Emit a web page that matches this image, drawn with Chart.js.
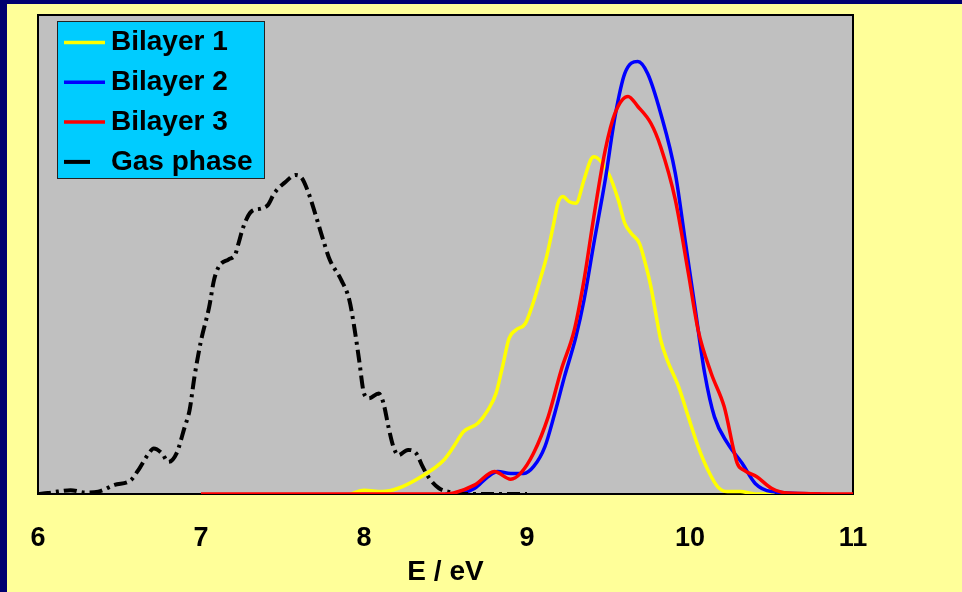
<!DOCTYPE html>
<html lang="en">
<head>
<meta charset="UTF-8">
<title>Bilayer spectra vs gas phase</title>
<style>
  body {
    margin: 0;
    background: #000070;
  }
  .frame {
    position: absolute;
    left: 7px;
    top: 4px;
    width: 955px;
    height: 588px;
    background: #ffff99;
  }
  canvas { display: block; }
</style>
</head>
<body>
<div class="frame"><canvas id="chart" width="955" height="588"></canvas></div>

<script src="https://cdn.jsdelivr.net/npm/chart.js"></script>
<script>
  // energies (eV) and intensities (arbitrary units, 1 = top of the plot)
  const gasE = [6.0, 6.06, 6.12, 6.2, 6.29, 6.37, 6.47, 6.57, 6.61, 6.68, 6.71, 6.76, 6.80, 6.85, 6.90, 6.93, 6.96, 7.0, 7.05, 7.08,
                7.11, 7.17, 7.21, 7.23, 7.26, 7.31, 7.37, 7.41, 7.45, 7.52, 7.58, 7.62, 7.66, 7.70, 7.75, 7.79, 7.86, 7.91, 7.94, 7.97,
                8.0, 8.03, 8.09, 8.12, 8.15, 8.18, 8.21, 8.27, 8.32, 8.36, 8.40, 8.46, 8.54, 8.6, 9.0];
  const gasI = [0, 0.002, 0.005, 0.008, 0.003, 0.005, 0.019, 0.029, 0.047, 0.085, 0.095, 0.085, 0.067, 0.085, 0.14, 0.175, 0.245, 0.32, 0.39, 0.447,
                0.475, 0.49, 0.50, 0.523, 0.558, 0.59, 0.596, 0.603, 0.628, 0.652, 0.666, 0.659, 0.628, 0.586, 0.53, 0.489, 0.447, 0.405, 0.349, 0.28,
                0.21, 0.20, 0.21, 0.189, 0.14, 0.099, 0.081, 0.092, 0.085, 0.057, 0.033, 0.012, 0.003, 0, 0];

  const bil1E = [7.92, 8.0, 8.11, 8.21, 8.35, 8.49, 8.55, 8.61, 8.70, 8.76, 8.81, 8.85, 8.89, 8.93, 8.99, 9.03, 9.08, 9.12, 9.16, 9.19,
                 9.22, 9.26, 9.30, 9.35, 9.39, 9.41, 9.50, 9.56, 9.60, 9.64, 9.69, 9.72, 9.76, 9.79, 9.82, 9.86, 9.93, 9.99, 10.05, 10.11,
                 10.17, 10.23, 10.31, 10.40, 10.52];
  const bil1I = [0, 0.008, 0.005, 0.012, 0.036, 0.071, 0.099, 0.13, 0.148, 0.175, 0.21, 0.266, 0.325, 0.342, 0.356, 0.391, 0.447, 0.495, 0.558, 0.607,
                 0.621, 0.61, 0.607, 0.656, 0.697, 0.704, 0.669, 0.614, 0.565, 0.544, 0.523, 0.489, 0.433, 0.377, 0.322, 0.28, 0.224, 0.161, 0.099, 0.05,
                 0.015, 0.005, 0.005, 0, 0];

  const bil2E = [8.5, 8.55, 8.68, 8.76, 8.82, 8.90, 8.98, 9.04, 9.11, 9.17, 9.23, 9.30, 9.35, 9.41, 9.48, 9.54, 9.60, 9.68, 9.74, 9.82,
                 9.91, 9.97, 10.03, 10.09, 10.15, 10.23, 10.32, 10.40, 10.50, 10.8];
  const bil2I = [0, 0, 0.012, 0.036, 0.047, 0.043, 0.043, 0.057, 0.099, 0.168, 0.245, 0.328, 0.405, 0.523, 0.656, 0.788, 0.878, 0.903, 0.878, 0.795,
                 0.669, 0.53, 0.391, 0.252, 0.161, 0.106, 0.064, 0.022, 0.005, 0];

  const bil3E = [7.0, 8.5, 8.55, 8.68, 8.80, 8.90, 8.96, 9.04, 9.13, 9.21, 9.29, 9.35, 9.41, 9.48, 9.54, 9.62, 9.68, 9.76, 9.82, 9.91,
                 9.99, 10.05, 10.13, 10.21, 10.29, 10.33, 10.41, 10.50, 10.60, 11.0];
  const bil3I = [0, 0, 0.002, 0.019, 0.047, 0.031, 0.043, 0.085, 0.161, 0.259, 0.342, 0.447, 0.579, 0.718, 0.795, 0.83, 0.809, 0.774, 0.725, 0.614,
                 0.461, 0.342, 0.252, 0.182, 0.064, 0.05, 0.036, 0.012, 0.002, 0];

  const xTicks = [6, 7, 8, 9, 10, 11];

  const FONT = 'Arial, "Liberation Sans", sans-serif';

  function toPoints(xs, ys) {
    return xs.map((x, i) => ({ x: x, y: ys[i] }));
  }

  // grey plot area with a black frame, under the curves
  const plotFrame = {
    id: 'plotFrame',
    beforeDatasetsDraw(chart) {
      const { ctx, chartArea: a } = chart;
      ctx.save();
      ctx.fillStyle = '#c0c0c0';
      ctx.fillRect(a.left, a.top, a.width, a.height);
      ctx.strokeStyle = '#000';
      ctx.lineWidth = 2;
      ctx.strokeRect(a.left, a.top, a.width, a.height);
      ctx.restore();
    }
  };

  // cyan legend box in the top left corner of the plot
  const boxLegend = {
    id: 'boxLegend',
    afterDatasetsDraw(chart) {
      const { ctx, chartArea: a } = chart;
      const x = a.left + 19, y = a.top + 6;
      ctx.save();
      ctx.fillStyle = '#00ccff';
      ctx.fillRect(x, y, 208, 158);
      ctx.strokeStyle = '#222';
      ctx.lineWidth = 1;
      ctx.strokeRect(x + 0.5, y + 0.5, 207, 157);
      ctx.font = 'bold 28px ' + FONT;
      ctx.textBaseline = 'middle';
      chart.data.datasets.forEach((ds, i) => {
        const cy = y + 21.5 + i * 39.8;
        const dashed = !!ds.borderDash;
        ctx.strokeStyle = ds.borderColor;
        ctx.lineWidth = dashed ? 4 : 3.5;
        ctx.beginPath();
        ctx.moveTo(x + 7, cy);
        ctx.lineTo(x + (dashed ? 33 : 48), cy);
        ctx.stroke();
        ctx.fillStyle = '#000';
        ctx.fillText(ds.label, x + 54, cy);
      });
      ctx.restore();
    }
  };

  const lineStyle = {
    pointRadius: 0,
    borderWidth: 3.5,
    cubicInterpolationMode: 'monotone',
    fill: false
  };

  new Chart(document.getElementById('chart'), {
    type: 'line',
    data: {
      datasets: [
        { ...lineStyle, label: 'Bilayer 1', data: toPoints(bil1E, bil1I), borderColor: '#ffff00', order: 4 },
        { ...lineStyle, label: 'Bilayer 2', data: toPoints(bil2E, bil2I), borderColor: '#0000ff', order: 3 },
        { ...lineStyle, label: 'Bilayer 3', data: toPoints(bil3E, bil3I), borderColor: '#ff0000', order: 1 },
        { ...lineStyle, label: 'Gas phase', data: toPoints(gasE, gasI), borderColor: '#000000',
          borderWidth: 4, borderDash: [13, 5, 3, 5], order: 2 }
      ]
    },
    options: {
      responsive: false,
      animation: false,
      layout: { padding: { left: 31, top: 11, right: 109, bottom: 0 } },
      plugins: {
        legend: { display: false },
        tooltip: { enabled: false }
      },
      scales: {
        x: {
          type: 'linear',
          min: 6,
          max: 11,
          afterBuildTicks: s => { s.ticks = xTicks.map(v => ({ value: v })); },
          afterFit: s => { s.height = 98; },
          // invisible tick marks give the gap between axis and labels
          grid: { display: true, drawOnChartArea: false, drawTicks: true, tickLength: 28, color: 'rgba(0,0,0,0)' },
          border: { display: false },
          ticks: {
            padding: 0,
            color: '#000',
            maxRotation: 0,
            font: { family: FONT, size: 27, weight: 'bold' }
          },
          title: {
            display: true,
            text: 'E / eV',
            color: '#000',
            padding: { top: 0, bottom: 3 },
            font: { family: FONT, size: 28, weight: 'bold' }
          }
        },
        y: {
          display: false,
          min: 0,
          max: 1
        }
      }
    },
    plugins: [plotFrame, boxLegend]
  });
</script>
</body>
</html>
